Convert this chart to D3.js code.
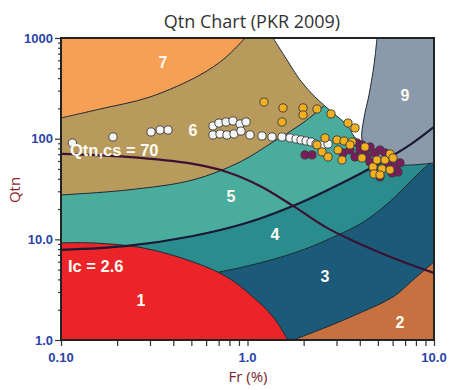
<!DOCTYPE html>
<html>
<head>
<meta charset="utf-8">
<script src="https://cdn.jsdelivr.net/npm/d3@7"></script>
<style>
  body { margin: 0; background: #fff; }
  svg { display: block; }
</style>
</head>
<body>
<div id="chart"></div>
<script>
// zone boundaries, [Fr %, Qtn]
var zone7Edge = [[0.1,160.6],[0.162,197],[0.300,259.5],[0.556,429],[0.758,633],[0.970,1000]];
var zone6Edge = [[0.1,27.6],[0.226,30.9],[0.510,38.9],[0.912,58.7],[1.370,92.7],[1.912,136.8],[2.604,216],[3.133,304]];
var ic26Line = [[0.1,7.85],[0.226,8.60],[0.510,10.8],[0.994,14.6],[1.912,23.0],[3.133,35.5],[5.133,57.4],[7.43,86.6],[10,130.7]];
var zone4Edge = [[0.1,3.37],[0.226,3.61],[0.510,4.23],[0.712,4.75],[1.167,5.83],[1.912,7.67],[2.669,9.87],[4.011,14.2],[5.461,21.5],[6.99,33.1],[8.41,46.7],[10,61.4]];
var zone8Edge = [[1.370,1000],[1.628,605],[1.912,383],[2.330,253.7],[2.874,180],[3.416,136.8],[3.913,97.1],[6.572,86.6],[6.572,1000]];
var zone9Edge = [[4.948,1000],[4.767,540],[4.482,271.6],[4.214,160.6],[4.111,97.1],[4.427,77.2],[5.329,61.4],[6.572,54.8],[10,57.4]];
var zone2Edge = [[1.754,1],[2.669,1.35],[4.011,1.86],[6.029,2.68],[7.72,3.95],[10,5.97]];
var zone1Edge = [[0.1,9.21],[0.1485,9.21],[0.2753,8.22],[0.510,5.97],[0.776,4.23],[1.070,2.68],[1.370,1.70],[1.649,1]];
var qtncsLine = [[0.1,70.5],[0.226,65.8],[0.510,56.1],[0.776,46.7],[1.167,33.9],[1.754,21.5],[2.669,13.0],[4.011,9.00],[6.029,6.54],[10,4.64]];

// CPT points
var whitePts = [[0.115,90.6],[0.190,104],[0.304,116.6],[0.340,122],[0.375,122],
  [0.653,133.7],[0.703,143],[0.767,146.5],[0.836,150],[0.912,140],[0.982,146.5],
  [0.653,108.9],[0.712,111.4],[0.776,108.9],[0.846,111.4],[0.923,119],
  [1.031,108.9],[1.196,106.4],[1.353,104],[1.531,104],[1.690,101.6],[1.820,99.3],
  [1.936,97.1],[2.060,94.9],[2.191,92.7],[2.330,88.5],[2.509,86.6],[2.703,88.5]];
var purplePts = [[2.034,68.9],[2.218,68.9],[3.252,72.1],[3.545,77.2],[3.771,65.8],[3.866,90.6],
  [4.111,86.6],[4.266,73.8],[4.538,82.7],[4.827,72.1],[5.133,77.2],[4.373,65.8],[5.461,72.1],
  [5.667,57.4],[6.178,52.4],[6.412,46.7],[6.572,57.4],[5.955,45.6],[5.133,41.7],[4.710,51.2],
  [4.011,77.2],[4.538,58.7]];
var yellowPts = [[1.226,231],[1.550,202],[1.531,146.5],[1.985,202],[1.985,172],[2.358,197],
  [2.804,176],[3.458,143],[3.771,127.7],[2.604,101.6],[3.019,97.1],[3.292,94.9],[3.634,92.7],
  [2.358,86.6],[2.509,73.8],[2.703,65.8],[3.057,77.2],[3.212,61.4],[4.266,82.7],[4.111,64.3],
  [4.710,52.4],[4.948,61.4],[5.461,61.4],[5.808,70.5],[6.029,64.3],[5.263,50.0],[5.808,48.9],
  [4.767,44.6],[5.133,43.6],[3.545,86.6]];

var zoneLabels = [["7",0.352,578],["6",0.510,122],["5",0.816,27.0],["4",1.404,11.1],
  ["3",2.604,4.33],["2",6.572,1.51],["1",0.2685,2.50],["9",6.99,272]];
var xTicks = [0.1, 1, 10];
var xTickText = ["0.10", "1.0", "10.0"];
var yTicks = [1, 10, 100, 1000];
var yTickText = ["1.0", "10.0", "100", "1000"];

var W = 451, H = 390;
var svg = d3.select("#chart").append("svg").attr("width", W).attr("height", H);
var x = d3.scaleLog().domain([0.1, 10]).range([61, 434]);
var y = d3.scaleLog().domain([1, 1000]).range([340, 38]);

svg.append("text")
  .attr("x", 252).attr("y", 28)
  .attr("text-anchor", "middle")
  .style("font-family", "Open Sans")
  .style("font-size", "18px")
  .style("fill", "#333")
  .text("Qtn Chart (PKR 2009)");

svg.append("clipPath").attr("id", "plotclip")
  .append("rect").attr("x", 61).attr("y", 38).attr("width", 373).attr("height", 302);

var g = svg.append("g").attr("clip-path", "url(#plotclip)");
var curve = d3.line().x(function(d) { return x(d[0]); }).y(function(d) { return y(d[1]); })
  .curve(d3.curveCatmullRom);
var pt = function(d) { return "L" + x(d[0]) + "," + y(d[1]); };

// region path = smooth edge + straight run along plot border
function region(edge, corners) {
  return curve(edge) + corners.map(pt).join("") + "Z";
}

var qMax = 1000, qMin = 1, fMin = 0.1, fMax = 10;
g.append("rect").attr("x", 61).attr("y", 38).attr("width", 373).attr("height", 302).attr("fill", "#1b5a79");

var zones = [
  [zone4Edge, [[fMax, qMax], [fMin, qMax]], "#2b8c8d"],
  [ic26Line, [[fMax, qMax], [fMin, qMax]], "#4aac9c"],
  [zone6Edge, [[zone6Edge[zone6Edge.length - 1][0], qMax], [fMin, qMax]], "#b89a5d"],
  [zone7Edge, [[fMin, qMax]], "#f5a055"],
  [zone8Edge, [], "#ffffff"],
  [zone9Edge, [[fMax, qMax]], "#8a9aaa"],
  [zone2Edge, [[fMax, qMin]], "#c6713f"],
  [zone1Edge, [[fMin, qMin]], "#ea2428"]
];
zones.forEach(function(z) {
  g.append("path")
    .attr("d", region(z[0], z[1]))
    .attr("fill", z[2])
    .attr("stroke", "#1d2a33")
    .attr("stroke-width", 1);
});

g.append("path").attr("d", curve(ic26Line))
  .attr("fill", "none").attr("stroke", "#1a1a36").attr("stroke-width", 2.2);
g.append("path").attr("d", curve(qtncsLine))
  .attr("fill", "none").attr("stroke", "#3b1233").attr("stroke-width", 2.2);

function dots(data, fill) {
  g.selectAll(null).data(data).enter().append("circle")
    .attr("cx", function(d) { return x(d[0]); })
    .attr("cy", function(d) { return y(d[1]); })
    .attr("r", 4.1)
    .attr("fill", fill)
    .attr("stroke", "#3a3a3a")
    .attr("stroke-width", 0.9);
}
dots(whitePts, "#f5f5f5");
dots(purplePts, "#7c1c5c");
dots(yellowPts, "#f2b01e");

g.selectAll(null).data(zoneLabels).enter().append("text")
  .attr("x", function(d) { return x(d[1]); })
  .attr("y", function(d) { return y(d[2]); })
  .attr("dy", "0.35em")
  .attr("text-anchor", "middle")
  .style("font-family", "Liberation Sans")
  .style("font-weight", "bold")
  .style("font-size", "16px")
  .style("fill", "#fdfbf2")
  .text(function(d) { return d[0]; });

g.append("text").attr("x", 70).attr("y", 156)
  .style("font-family", "Liberation Sans").style("font-weight", "bold").style("font-size", "16.5px")
  .style("fill", "#fdfbf2").text("Qtn,cs = 70");
g.append("text").attr("x", 68).attr("y", 272)
  .style("font-family", "Liberation Sans").style("font-weight", "bold").style("font-size", "16.5px")
  .style("fill", "#fdfbf2").text("Ic = 2.6");

// axes
var minor = function(a, b) {
  var out = [];
  for (var p = a; p < b; p *= 10) for (var k = 1; k < 10; k++) out.push(p * k);
  out.push(b);
  return out;
};
var isMajor = function(v) { return Math.abs(Math.log10(v) - Math.round(Math.log10(v))) < 1e-9; };

var xa = svg.append("g").attr("transform", "translate(0,340)")
  .call(d3.axisBottom(x).tickValues(minor(0.1, 10)).tickSize(6).tickFormat(""));
var ya = svg.append("g").attr("transform", "translate(61,0)")
  .call(d3.axisLeft(y).tickValues(minor(1, 1000)).tickFormat(""));
ya.selectAll(".tick line").attr("x2", function(d) { return isMajor(d) ? -6 : -3; });
[xa, ya].forEach(function(a) {
  a.select(".domain").remove();
  a.selectAll(".tick line").attr("stroke", "#333").attr("stroke-width", 1.2);
});

svg.selectAll(null).data(xTicks).enter().append("text")
  .attr("x", function(d) { return x(d); }).attr("y", 362)
  .attr("text-anchor", "middle")
  .style("font-family", "Liberation Sans").style("font-weight", "bold").style("font-size", "13px")
  .style("fill", "#2a44a8")
  .text(function(d, i) { return xTickText[i]; });
svg.selectAll(null).data(yTicks).enter().append("text")
  .attr("x", 53).attr("y", function(d) { return y(d); }).attr("dy", "0.35em")
  .attr("text-anchor", "end")
  .style("font-family", "Liberation Sans").style("font-weight", "bold").style("font-size", "13px")
  .style("fill", "#2a44a8")
  .text(function(d, i) { return yTickText[i]; });

svg.append("rect").attr("x", 61).attr("y", 38).attr("width", 373).attr("height", 302)
  .attr("fill", "none").attr("stroke", "#222").attr("stroke-width", 2);

svg.append("text").attr("x", 248).attr("y", 382).attr("text-anchor", "middle")
  .style("font-family", "Open Sans").style("font-size", "15px").style("fill", "#7a2630")
  .text("Fr (%)");
svg.append("text").attr("transform", "translate(20,190) rotate(-90)").attr("text-anchor", "middle")
  .style("font-family", "Open Sans").style("font-size", "15px").style("fill", "#8a1f2e")
  .text("Qtn");
</script>
</body>
</html>
